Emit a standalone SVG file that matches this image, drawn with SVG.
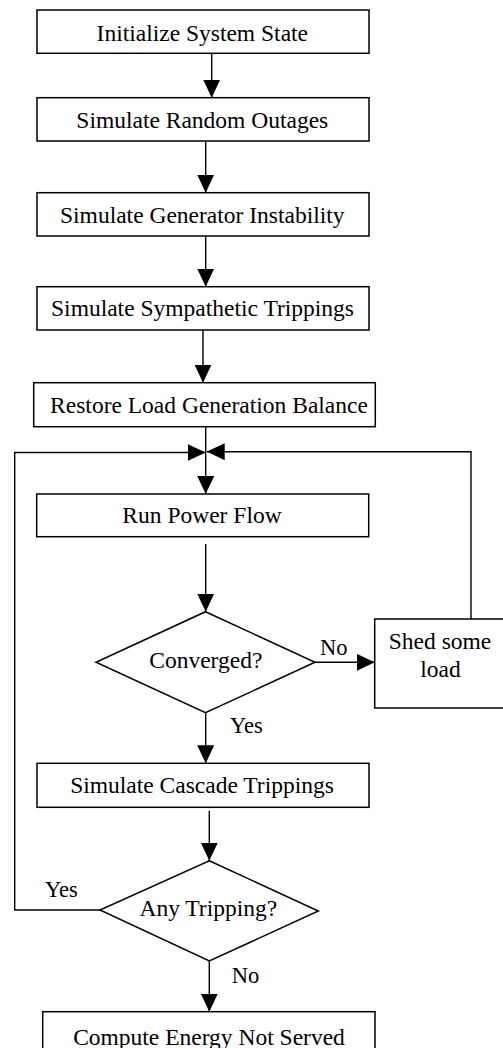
<svg xmlns="http://www.w3.org/2000/svg" width="503" height="1048" viewBox="0 0 503 1048">
  <style>
    .box { fill: #fff; stroke: #000; stroke-width: 1.5; }
    .lbl { font-family: "Liberation Serif", "Times New Roman", serif; font-size: 23.5px; fill: #000; text-anchor: middle; }
    .tag { font-family: "Liberation Serif", "Times New Roman", serif; font-size: 22.5px; fill: #000; }
    .wire { fill: none; stroke: #000; stroke-width: 1.4; }
  </style>
  <defs>
    <marker id="arrow" markerUnits="userSpaceOnUse" markerWidth="18" markerHeight="17" refX="18" refY="8.5" orient="auto">
      <path d="M0,0 L18,8.5 L0,17 Z" fill="#000"/>
    </marker>
  </defs>

  <rect width="503" height="1048" fill="#fff"/>

  <!-- connectors -->
  <g id="connectors">
    <line class="wire" x1="211.7" y1="53.3" x2="211.7" y2="97.7" marker-end="url(#arrow)"/>
    <line class="wire" x1="205.7" y1="141" x2="205.7" y2="192.7" marker-end="url(#arrow)"/>
    <line class="wire" x1="205.7" y1="236" x2="205.7" y2="286.7" marker-end="url(#arrow)"/>
    <line class="wire" x1="203" y1="330" x2="203" y2="382.7" marker-end="url(#arrow)"/>
    <line class="wire" x1="205.7" y1="426.7" x2="205.7" y2="494" marker-end="url(#arrow)"/>
    <line class="wire" x1="205.7" y1="544" x2="205.7" y2="611.7" marker-end="url(#arrow)"/>
    <line class="wire" x1="315" y1="662.3" x2="374.7" y2="662.3" marker-end="url(#arrow)"/>
    <line class="wire" x1="205.7" y1="712.7" x2="205.7" y2="763.3" marker-end="url(#arrow)"/>
    <line class="wire" x1="209.3" y1="810.7" x2="209.3" y2="860.7" marker-end="url(#arrow)"/>
    <line class="wire" x1="209.3" y1="961" x2="209.3" y2="1011.7" marker-end="url(#arrow)"/>
    <!-- loop back from "Any Tripping?" -->
    <polyline class="wire" points="100,910 14.7,910 14.7,452.5 205.7,452.5" marker-end="url(#arrow)"/>
    <!-- loop back from "Shed some load" -->
    <polyline class="wire" points="471,619 471,451.7 206.7,451.7" marker-end="url(#arrow)"/>
    <text class="tag" x="320" y="655">No</text>
    <text class="tag" x="230" y="733">Yes</text>
    <text class="tag" x="45" y="896.7">Yes</text>
    <text class="tag" x="231.7" y="983">No</text>
  </g>

  <g id="init">
    <rect class="box" x="37" y="10" width="332" height="43.3"/>
    <text class="lbl" x="202.3" y="40.5">Initialize System State</text>
  </g>
  <g id="outages">
    <rect class="box" x="37" y="97.7" width="332" height="43.3"/>
    <text class="lbl" x="202.3" y="127.7">Simulate Random Outages</text>
  </g>
  <g id="instability">
    <rect class="box" x="37" y="192.7" width="332" height="43.3"/>
    <text class="lbl" x="202.3" y="223.3">Simulate Generator Instability</text>
  </g>
  <g id="sympathetic">
    <rect class="box" x="37" y="286.7" width="332" height="43.3"/>
    <text class="lbl" x="202.5" y="316">Simulate Sympathetic Trippings</text>
  </g>
  <g id="restore">
    <rect class="box" x="33.7" y="382.7" width="341.6" height="44"/>
    <text class="lbl" x="209" y="412.7">Restore Load Generation Balance</text>
  </g>
  <g id="powerflow">
    <rect class="box" x="36.7" y="494" width="332" height="42.7"/>
    <text class="lbl" x="202" y="523.3">Run Power Flow</text>
  </g>
  <g id="converged">
    <polygon class="box" points="205.5,611.7 315,662.3 205.5,712.7 96,662.3"/>
    <text class="lbl" x="205.8" y="668.3">Converged?</text>
  </g>
  <g id="shed">
    <rect class="box" x="374.7" y="619" width="140" height="89"/>
    <text class="lbl" x="440" y="649.3">Shed some</text>
    <text class="lbl" x="440.5" y="677.3">load</text>
  </g>
  <g id="cascade">
    <rect class="box" x="37" y="763.3" width="332" height="44"/>
    <text class="lbl" x="202" y="792.7">Simulate Cascade Trippings</text>
  </g>
  <g id="tripping">
    <polygon class="box" points="209.3,860.7 318.3,911 209.3,961 100,910"/>
    <text class="lbl" x="208.3" y="916">Any Tripping?</text>
  </g>
  <g id="ens">
    <rect class="box" x="42.7" y="1011.7" width="332.3" height="50"/>
    <text class="lbl" x="209" y="1045">Compute Energy Not Served</text>
  </g>
</svg>
